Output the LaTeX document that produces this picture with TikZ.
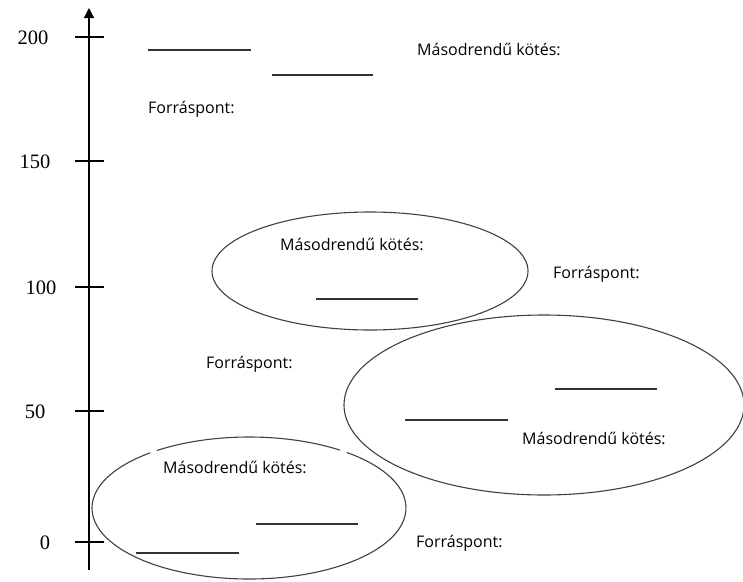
\documentclass[tikz,border=0pt]{standalone}
\usepackage{fontspec}
\setmainfont{Liberation Serif}
\newfontfamily\labelfont{Open Sans}
\usetikzlibrary{arrows.meta}

\begin{document}
\begin{tikzpicture}[x=1pt,y=-1pt]
   \tikzstyle{every node}=[inner sep=0pt]
   \tikzstyle{label text}=[font=\labelfont\fontsize{16}{18}\selectfont, anchor=west]
   \tikzstyle{tick text}=[font=\fontsize{20.5}{24}\selectfont]
   \tikzstyle{blank}=[line width=1.3pt, black!80]
   \tikzstyle{curve}=[line width=1.1pt, black!75]

\useasboundingbox (0,0) rectangle (743,581);

% axis
\draw[line width=1.2pt, -{Triangle[length=10pt,width=10pt]}] (89,570) coordinate (bottom) -- (89,8) coordinate (top);
\foreach \val/\xpos/\ypos in {200/33/37, 150/35/161, 100/41/287, 50/35/411, 0/45/542} {
    \draw[line width=1.2pt] (75,\ypos) -- (104,\ypos);
    \node[tick text] (tick\val) at (\xpos,\ypos+1) {\val};
}

% blanks
\draw[blank] (148,50) -- (251,50);
\draw[blank] (272,75) -- (373,75);
\draw[blank] (316,299) -- (418,299);
\draw[blank] (555,389) -- (657,389);
\draw[blank] (405,420) -- (508,420);
\draw[blank] (256,524) -- (358,524);
\draw[blank] (136,553) -- (239,553);

% ellipses
\draw[curve] (370,271) ellipse [x radius=158, y radius=59];
\draw[curve] (544,405) ellipse [x radius=200, y radius=90];
\draw[curve] (249,508) ++(-54.5:157 and 71) arc [start angle=-54.5, end angle=-126, x radius=157, y radius=71];
\draw[curve] (249,508) ++(-129:157 and 71) arc [start angle=-129, end angle=-411.5, x radius=157, y radius=71];

% texts
\node[label text] (kotes1) at (417,49) {Másodrendű kötés:};
\node[label text] (forras1) at (148,109) {Forráspont:};
\node[label text] (kotes2) at (280,244) {Másodrendű kötés:};
\node[label text] (forras2) at (553,274) {Forráspont:};
\node[label text] (forras3) at (206,364) {Forráspont:};
\node[label text] (kotes3) at (522,438) {Másodrendű kötés:};
\node[label text] (kotes4) at (163,467) {Másodrendű kötés:};
\node[label text] (forras4) at (416,543) {Forráspont:};

\end{tikzpicture}
\end{document}
